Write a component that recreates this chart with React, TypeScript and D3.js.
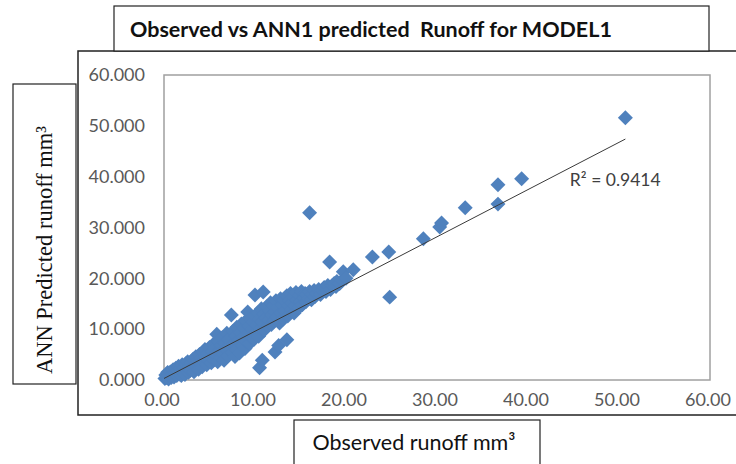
import React from 'react';
import * as d3 from 'd3';

// observed runoff (x) vs ANN1 predicted runoff (y)
const samples: [number, number][] = [
  [0.1, 0.3], [0.2, 1.0], [0.3, 0.5], [0.4, 1.5], [0.5, 0.2], [0.6, 0.9], [0.7, 1.6], [0.8, 0.5], [0.9, 1.2], [1.0, 2.0],
  [1.1, 0.6], [1.2, 1.4], [1.3, 2.3], [1.4, 0.9], [1.5, 1.8], [1.6, 2.7], [1.7, 1.2], [1.8, 2.2], [1.9, 0.9], [2.0, 3.0],
  [2.1, 1.6], [2.2, 2.4], [2.3, 1.1], [2.4, 3.2], [2.5, 2.0], [2.6, 3.6], [2.7, 1.5], [2.8, 2.7], [2.9, 1.9], [3.0, 3.4],
  [3.1, 2.3], [3.2, 4.1], [3.3, 1.6], [3.4, 3.0], [3.5, 4.6], [3.6, 2.6], [3.7, 3.8], [3.8, 2.1], [3.9, 5.0], [4.0, 3.2],
  [4.1, 4.3], [4.2, 2.6], [4.3, 5.5], [4.4, 3.7], [4.5, 6.0], [4.6, 4.6], [4.7, 3.0], [4.8, 5.2], [4.9, 3.9], [5.0, 6.4],
  [5.1, 4.5], [5.2, 3.4], [5.3, 5.6], [5.4, 7.0], [5.5, 4.0], [5.6, 6.2], [5.7, 5.0], [5.8, 9.0], [5.9, 3.6], [6.0, 7.6],
  [6.1, 5.6], [6.2, 4.4], [6.3, 6.8], [6.4, 8.3], [6.5, 5.1], [6.6, 3.9], [6.7, 7.3], [6.8, 6.1], [6.9, 9.2], [7.0, 4.7],
  [7.1, 8.0], [7.2, 6.5], [7.4, 12.8], [7.5, 5.4], [7.6, 9.6], [7.7, 7.2], [7.8, 4.6], [7.9, 8.6], [8.0, 10.4], [8.0, 6.0],
  [8.2, 7.8], [8.3, 5.3], [8.4, 9.3], [8.5, 11.0], [8.6, 6.8], [8.7, 8.4], [8.8, 10.2], [8.9, 6.2], [9.0, 11.6], [9.0, 7.6],
  [9.2, 13.4], [9.2, 9.0], [9.3, 10.6], [9.4, 7.2], [9.5, 12.0], [9.6, 8.4], [9.7, 10.0], [9.8, 11.4], [9.9, 8.0], [10.0, 16.7],
  [10.0, 12.6], [10.1, 9.4], [10.2, 10.8], [10.3, 13.2], [10.4, 8.6], [10.5, 2.4], [10.5, 12.0], [10.6, 10.2], [10.7, 14.0], [10.8, 3.9],
  [10.8, 11.4], [10.9, 17.3], [11.0, 9.8], [11.0, 13.0], [11.2, 12.2], [11.3, 14.4], [11.4, 10.6], [11.5, 11.8], [11.6, 13.6], [11.7, 15.2],
  [11.8, 10.9], [11.9, 12.8], [12.0, 14.6], [12.1, 11.6], [12.2, 5.5], [12.2, 13.4], [12.3, 15.6], [12.4, 12.4], [12.5, 14.2], [12.6, 6.8],
  [12.7, 11.2], [12.8, 16.0], [12.9, 13.2], [13.0, 14.8], [13.1, 12.0], [13.2, 15.8], [13.3, 13.6], [13.5, 7.9], [13.5, 16.6], [13.6, 12.6],
  [13.7, 14.6], [13.8, 15.6], [13.9, 17.0], [14.0, 13.8], [14.1, 15.2], [14.2, 16.4], [14.3, 13.2], [14.4, 14.6], [14.5, 17.2], [14.6, 15.8],
  [14.8, 14.2], [14.9, 16.6], [15.0, 15.4], [15.1, 17.4], [15.2, 14.8], [15.4, 16.2], [15.5, 17.0], [15.6, 15.4], [15.7, 16.8], [15.9, 16.0],
  [16.0, 17.4], [16.2, 15.8], [16.3, 16.8], [16.5, 17.6], [16.6, 16.4], [16.8, 17.0], [17.0, 17.8], [17.2, 16.8], [17.4, 17.6], [17.6, 18.2],
  [17.8, 17.4], [18.0, 18.6], [18.2, 23.2], [18.3, 17.8], [18.5, 18.6], [18.7, 19.0], [18.9, 18.4], [19.0, 19.4], [19.3, 19.0], [19.6, 19.6],
  [19.7, 21.3], [20.0, 20.0], [20.8, 21.7], [16.0, 32.9], [22.9, 24.2], [24.7, 25.2], [24.8, 16.3], [28.5, 27.8], [30.3, 30.1], [30.5, 30.9],
  [33.1, 33.9], [36.7, 34.6], [36.7, 38.4], [39.3, 39.6], [50.7, 51.6],
];

const xTicks = [0, 10, 20, 30, 40, 50, 60];
const yTicks = [0, 10, 20, 30, 40, 50, 60];

// linear trend line as drawn in the picture
const trendRange = [0, 50.7];
const trendSlope = 0.929;
const trendIntercept = 0.3;
const rSquared = '0.9414';

const chartTitle = 'Observed vs ANN1 predicted  Runoff for MODEL1';
const xTitle = 'Observed runoff mm³';
const yTitle = 'ANN Predicted runoff mm³';

const W = 736;
const H = 464;
const plot = { left: 164, right: 710, top: 75, bottom: 380 };
const sans = 'Lato, "Open Sans", sans-serif';

const App: React.FC = () => {
  const x = d3.scaleLinear().domain([0, 60]).range([plot.left, plot.right]);
  const y = d3.scaleLinear().domain([0, 60]).range([plot.bottom, plot.top]);

  const diamond = d3.symbol(d3.symbolSquare, 112)();
  const trend = d3
    .line<number>()
    .x((d) => x(d))
    .y((d) => y(trendSlope * d + trendIntercept));

  const labelX = 44.6;

  return (
    <svg
      width={W}
      height={H}
      style={{ position: 'absolute', left: 0, top: 0, background: '#fff' }}
    >
      {/* outer chart frame */}
      <rect x={78} y={51} width={700} height={364} fill="#fff" stroke="#222" strokeWidth={1.5} />

      {/* plot area */}
      <rect
        x={plot.left}
        y={plot.top}
        width={plot.right - plot.left}
        height={plot.bottom - plot.top}
        fill="#fff"
        stroke="#a0a0a0"
        strokeWidth={1.5}
      />

      {/* y tick labels */}
      {yTicks.map((t) => (
        <text
          key={'y' + t}
          x={145}
          y={y(t)}
          dy="0.35em"
          textAnchor="end"
          fontFamily={sans}
          fontSize={18}
          fill="#595959"
        >
          {d3.format('.3f')(t)}
        </text>
      ))}

      {/* x tick labels */}
      {xTicks.map((t) => (
        <text
          key={'x' + t}
          x={x(t) - 2}
          y={400}
          dy="0.35em"
          textAnchor="middle"
          fontFamily={sans}
          fontSize={18}
          fill="#595959"
        >
          {d3.format('.2f')(t)}
        </text>
      ))}

      {/* points */}
      <g fill="#4F81BD">
        {samples.map((d, i) => (
          <path
            key={i}
            d={diamond || ''}
            transform={`translate(${x(d[0])},${y(d[1])}) rotate(45)`}
          />
        ))}
      </g>

      {/* trend line */}
      <path d={trend(trendRange) || ''} fill="none" stroke="#3a3a3a" strokeWidth={1} />
      <text
        x={x(labelX)}
        y={186}
        fontFamily={sans}
        fontSize={17.5}
        fill="#404040"
      >
        {`R² = ${rSquared}`}
      </text>

      {/* title box */}
      <rect x={114} y={6} width={595} height={45} fill="#fff" stroke="#222" strokeWidth={1.2} />
      <text
        x={130}
        y={29}
        dy="0.35em"
        fontFamily={sans}
        fontWeight={700}
        fontSize={21.5}
        fill="#111"
        style={{ whiteSpace: 'pre' }}
      >
        {chartTitle}
      </text>

      {/* y title box */}
      <rect x={13} y={84} width={63} height={300} fill="#fff" stroke="#222" strokeWidth={1.2} />
      <text
        transform={`translate(52,250) rotate(-90)`}
        textAnchor="middle"
        fontFamily='"Liberation Serif", "DejaVu Serif", serif'
        fontSize={22.5}
        fill="#111"
      >
        {yTitle}
      </text>

      {/* x title box */}
      <rect x={294} y={420} width={246} height={60} fill="#fff" stroke="#222" strokeWidth={1.2} />
      <text
        x={414}
        y={442}
        dy="0.35em"
        textAnchor="middle"
        fontFamily={sans}
        fontSize={21.5}
        fill="#111"
      >
        {xTitle}
      </text>
    </svg>
  );
};

export default App;
